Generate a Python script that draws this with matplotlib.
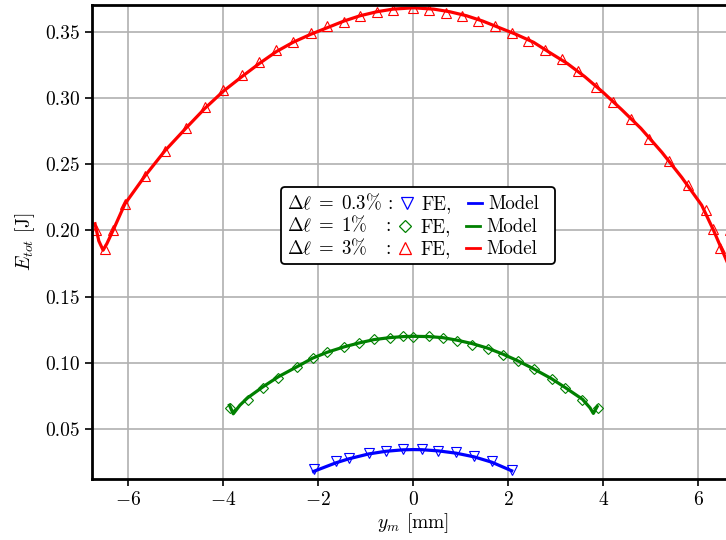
import matplotlib
matplotlib.use("Agg")
import matplotlib.pyplot as plt
from matplotlib.lines import Line2D
from matplotlib.offsetbox import AnchoredOffsetbox, HPacker, VPacker, TextArea, DrawingArea

plt.rcParams['font.family'] = 'serif'
plt.rcParams['font.serif'] = ['cmr10']
plt.rcParams['mathtext.fontset'] = 'cm'
plt.rcParams['axes.formatter.use_mathtext'] = True
plt.rcParams['axes.unicode_minus'] = True

# FE results (markers)
fe_x_03 = [-2.09, -1.63, -1.36, -0.94, -0.58, -0.22, 0.18, 0.53, 0.90, 1.28, 1.65, 2.07]
fe_y_03 = [0.0198, 0.0255, 0.0281, 0.0319, 0.0338, 0.0349, 0.0349, 0.0338, 0.0323, 0.0293, 0.0255, 0.0192]

fe_x_1 = [-3.86, -3.49, -3.16, -2.84, -2.45, -2.12, -1.81, -1.46, -1.14, -0.83, -0.50, -0.21,
          0.0, 0.32, 0.62, 0.93, 1.24, 1.57, 1.89, 2.20, 2.53, 2.91, 3.19, 3.56, 3.88]
fe_y_1 = [0.0658, 0.0716, 0.0809, 0.0889, 0.0965, 0.1036, 0.1078, 0.1119, 0.1149, 0.1179, 0.1191, 0.1199,
          0.1195, 0.1199, 0.1187, 0.1161, 0.1136, 0.1104, 0.1061, 0.1010, 0.0953, 0.0877, 0.0809, 0.0721, 0.0658]

fe_x_3 = [-6.67, -6.49, -6.32, -6.07, -5.65, -5.23, -4.79, -4.39, -4.00, -3.61, -3.24, -2.88, -2.53,
          -2.16, -1.81, -1.46, -1.12, -0.77, -0.43, 0.0, 0.34, 0.69, 1.03, 1.37, 1.72, 2.07, 2.42,
          2.77, 3.13, 3.47, 3.85, 4.21, 4.58, 4.97, 5.39, 5.79, 6.16, 6.30, 6.46, 6.67]
fe_y_3 = [0.200, 0.186, 0.200, 0.220, 0.241, 0.260, 0.277, 0.293, 0.306, 0.317, 0.327, 0.336, 0.3425,
          0.349, 0.354, 0.3575, 0.362, 0.365, 0.3664, 0.3677, 0.3664, 0.3643, 0.3615, 0.358, 0.354, 0.349, 0.343,
          0.336, 0.329, 0.320, 0.308, 0.297, 0.284, 0.269, 0.252, 0.234, 0.215, 0.201, 0.187, 0.200]

# model curves
mod_x_03 = [-2.10, -1.63, -1.36, -0.94, -0.58, -0.22, 0.0, 0.18, 0.53, 0.90, 1.28, 1.65, 2.07]
mod_y_03 = [0.0180, 0.0245, 0.0275, 0.0312, 0.0332, 0.0343, 0.0345, 0.0344, 0.0335, 0.0318, 0.0290, 0.0250, 0.0185]

mod_x_1 = [-3.87, -3.79, -3.65, -3.49, -3.16, -2.84, -2.45, -2.12, -1.81, -1.46, -1.14, -0.83, -0.50,
           -0.21, 0.0, 0.32, 0.62, 0.93, 1.24, 1.57, 1.89, 2.20, 2.53, 2.91, 3.19, 3.56, 3.72, 3.79, 3.87]
mod_y_1 = [0.068, 0.0615, 0.068, 0.0735, 0.082, 0.0895, 0.097, 0.1035, 0.108, 0.112, 0.115, 0.1175, 0.119,
           0.1198, 0.120, 0.1198, 0.119, 0.117, 0.1145, 0.111, 0.1065, 0.1015, 0.0955, 0.088, 0.0815, 0.0725,
           0.066, 0.0618, 0.067]

mod_x_3 = [-6.70, -6.62, -6.53, -6.45, -6.32, -6.07, -5.65, -5.23, -4.79, -4.39, -4.00, -3.61, -3.24,
           -2.88, -2.53, -2.16, -1.81, -1.46, -1.12, -0.77, -0.43, 0.0, 0.43, 0.77, 1.12, 1.46, 1.81, 2.16,
           2.53, 2.88, 3.24, 3.61, 4.00, 4.39, 4.79, 5.23, 5.65, 6.07, 6.32, 6.50, 6.62, 6.75]
mod_y_3 = [0.205, 0.192, 0.185, 0.190, 0.200, 0.220, 0.241, 0.260, 0.277, 0.292, 0.305, 0.316, 0.326,
           0.335, 0.342, 0.348, 0.353, 0.358, 0.362, 0.365, 0.367, 0.368, 0.367, 0.365, 0.362, 0.358, 0.353,
           0.348, 0.342, 0.334, 0.326, 0.316, 0.304, 0.291, 0.277, 0.259, 0.240, 0.219, 0.200, 0.185, 0.175, 0.165]

labels_dl = [r'$\Delta\ell\;=\;0.3\%$ :', r'$\Delta\ell\;=\;1\%\;\;\:$ :', r'$\Delta\ell\;=\;3\%\;\;\:$ :']
colors = ['blue', 'green', 'red']
markers = ['v', 'D', '^']

fig = plt.figure(figsize=(7.26, 5.4), dpi=100)
ax = fig.add_axes([0.1263, 0.113, 0.886, 0.8777])

mk = dict(ls='none', mfc='none', ms=6.5, mew=0.8)
ax.plot(mod_x_03, mod_y_03, color='blue', lw=2.3)
ax.plot(mod_x_1, mod_y_1, color='green', lw=2.3)
ax.plot(mod_x_3, mod_y_3, color='red', lw=2.3)
ax.plot(fe_x_03, fe_y_03, marker='v', mec='blue', **mk)
ax.plot(fe_x_1, fe_y_1, marker='D', mec='green', ms=5.5, ls='none', mfc='none', mew=0.8)
ax.plot(fe_x_3, fe_y_3, marker='^', mec='red', **mk)

ax.set_xlim(-6.77, 6.77)
ax.set_ylim(0.0123, 0.3701)
ax.set_xticks([-6, -4, -2, 0, 2, 4, 6])
ax.set_yticks([0.05, 0.10, 0.15, 0.20, 0.25, 0.30, 0.35])
ax.set_yticklabels(['0.05', '0.10', '0.15', '0.20', '0.25', '0.30', '0.35'])
ax.grid(True, color='#b0b0b0', lw=1.2)
ax.set_axisbelow(True)
for s in ax.spines.values():
    s.set_linewidth(2)
ax.tick_params(labelsize=14, width=1.2, length=5)
ax.set_xlabel(r'$y_m$ [mm]', fontsize=14, labelpad=2)
ax.set_ylabel(r'$E_{tot}$ [J]', fontsize=14, labelpad=6)

# legend box built by hand: one row per strain level
fs = 13.6
rows = []
for c, m, t in zip(colors, markers, labels_dl):
    lab = TextArea(t, textprops=dict(fontsize=fs))
    dm = DrawingArea(21, 10, 0, 0)
    dm.add_artist(Line2D([10], [4.4], ls='none', marker=m, mec=c, mfc='none',
                         ms=8 if m != 'D' else 6.5, mew=0.9))
    fe = TextArea('FE,', textprops=dict(fontsize=fs))
    dl = DrawingArea(26, 10, 0, 0)
    dl.add_artist(Line2D([11.5, 21.5], [4.4, 4.4], color=c, lw=2))
    mod = TextArea('Model', textprops=dict(fontsize=fs))
    tail = DrawingArea(7, 10, 0, 0)
    rows.append(HPacker(children=[lab, dm, fe, dl, mod, tail], align='baseline', pad=0, sep=0))

box = VPacker(children=rows, align='left', pad=0, sep=1.2)
anch = AnchoredOffsetbox(loc='center', child=box, pad=0.3, borderpad=0, frameon=True,
                         bbox_to_anchor=(0.507, 0.535), bbox_transform=ax.transAxes,
                         prop=dict(size=fs))
anch.patch.set_boxstyle('round', pad=0, rounding_size=0.2)
anch.patch.set_edgecolor('black')
anch.patch.set_linewidth(1.3)
anch.zorder = 5
ax.add_artist(anch)

fig.savefig('out.png', dpi=100)
